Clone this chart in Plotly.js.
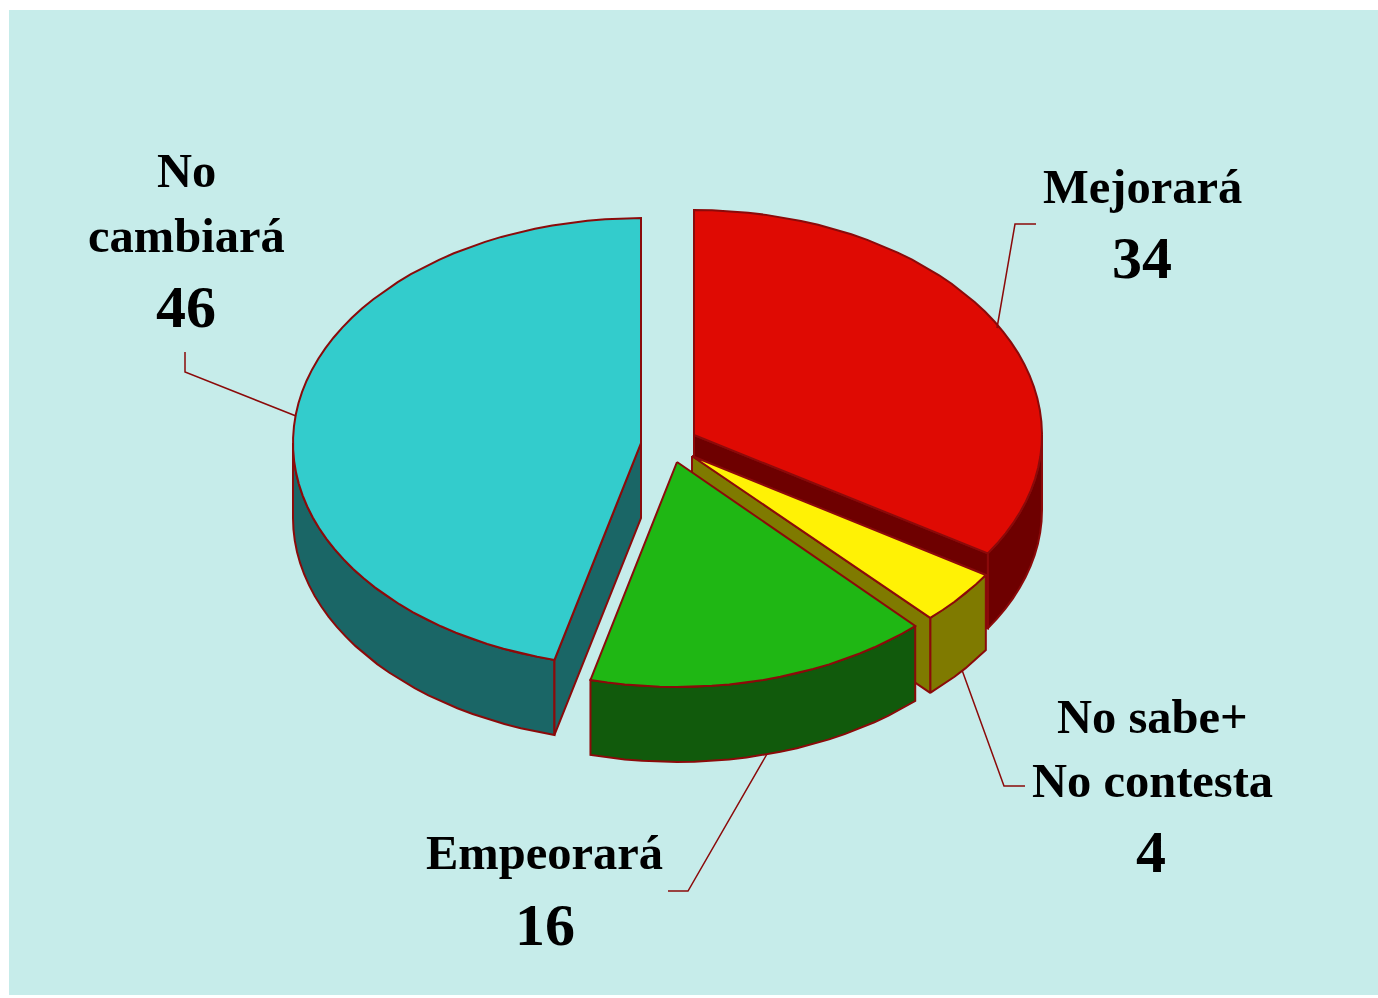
<!DOCTYPE html>
<html>
<head>
<meta charset="utf-8">
<script src="https://cdn.plot.ly/plotly-3.0.1.min.js"></script>
<style>html,body{margin:0;padding:0;background:#fff;overflow:hidden}#chart{width:1378px;height:998px}</style>
</head>
<body>
<div id="chart"></div>
<script>
// --- data, clockwise from twelve o'clock ---
const categories = ["Mejorará", "No sabe+|No contesta", "Empeorará", "No\ncambiará"];
const values = [34, 4, 16, 46];

// --- geometry of the exploded tilted pie (plot units = px) ---
const centerX = [694, 692, 677, 641];
const centerY = [435, 456, 462, 443];
const radiusDown = [221, 222, 225, 224];
const radiusUp = 225;
const radiusX = 348;
const depth = 75;

// --- styles ---
const topColors  = ["#df0a03", "#fff205", "#1fb714", "#33cccc"];
const sideColors = ["#6e0000", "#7f7a00", "#115a0c", "#1a6666"];
const edgeColor = "#8b0a0a";
const bgColor = "#c6ecea";

// --- label placement ---
const labelLines = [["Mejorará"], ["No sabe+", "No contesta"], ["Empeorará"], ["No", "cambiará"]];
const labelX = [1142, 1152, 544, 186];
const labelY = [[186], [716, 780], [852], [170, 235]];
const valueX = [1142, 1151, 545, 186];
const valueY = [258, 852, 925, 307];
const leaderX = [[997, 1015, 1036], [962, 1004, 1025], [767, 688, 668], [296, 185, 185]];
const leaderY = [[328, 224, 224], [670, 786, 786], [754, 891, 891], [416, 372, 352]];

const total = values.reduce((a, b) => a + b, 0);
let acc = 0;
const startAngle = [], endAngle = [];
values.forEach(v => {
  startAngle.push(acc / total * 2 * Math.PI);
  acc += v;
  endAngle.push(acc / total * 2 * Math.PI);
});

function rim(i, t, dy) {
  const c = Math.cos(t);
  const ry = c >= 0 ? radiusUp : radiusDown[i];
  return [centerX[i] + radiusX * Math.sin(t), centerY[i] - ry * c + (dy || 0)];
}
function arc(i, a, b, dy) {
  const n = Math.max(2, Math.ceil(Math.abs(b - a) / (Math.PI / 60)));
  const pts = [];
  for (let k = 0; k <= n; k++) pts.push(rim(i, a + (b - a) * k / n, dy));
  return pts;
}
function poly(pts, fill) {
  const closed = pts.concat([pts[0]]);
  return {
    type: "scatter", mode: "lines", fill: "toself", fillcolor: fill,
    x: closed.map(p => p[0]), y: closed.map(p => p[1]),
    line: { color: edgeColor, width: 2, shape: "linear" },
    hoverinfo: "skip", showlegend: false
  };
}
function wedgeTraces(i, faceAngle) {
  const out = [];
  const a = startAngle[i], b = endAngle[i];
  // outer wall: only the part on the near side of the ellipse
  const wa = Math.max(a, Math.PI / 2), wb = Math.min(b, 3 * Math.PI / 2);
  if (wb > wa) {
    out.push(poly(arc(i, wa, wb, 0).concat(arc(i, wb, wa, depth)), sideColors[i]));
  }
  // visible cut face
  if (faceAngle !== null) {
    const p = rim(i, faceAngle, 0), q = rim(i, faceAngle, depth);
    out.push(poly([[centerX[i], centerY[i]], p, q, [centerX[i], centerY[i] + depth]], sideColors[i]));
  }
  // top surface
  out.push(poly([[centerX[i], centerY[i]]].concat(arc(i, a, b, 0)), topColors[i]));
  return out;
}

const traces = [];
// painter's order: back-left, back-right, then the front slices
traces.push(...wedgeTraces(3, startAngle[3]));
traces.push(...wedgeTraces(0, endAngle[0]));
traces.push(...wedgeTraces(1, endAngle[1]));
traces.push(...wedgeTraces(2, null));

// leader lines
leaderX.forEach((xs, i) => traces.push({
  type: "scatter", mode: "lines", x: xs, y: leaderY[i],
  line: { color: edgeColor, width: 1.5 }, hoverinfo: "skip", showlegend: false
}));

// labels
const annotations = [];
const note = (x, y, text, size) => annotations.push({
  x, y, xref: "x", yref: "y", text: "<b>" + text + "</b>", showarrow: false,
  xanchor: "center", yanchor: "middle",
  font: { family: "Liberation Serif", size, color: "#000" }
});
labelLines.forEach((lines, i) => lines.forEach((t, k) => note(labelX[i], labelY[i][k], t, 48.5)));
values.forEach((v, i) => note(valueX[i], valueY[i], String(v), 60));

const layout = {
  width: 1378, height: 998, margin: { l: 0, r: 0, t: 0, b: 0 },
  paper_bgcolor: "#ffffff", plot_bgcolor: "#ffffff",
  xaxis: { range: [0, 1378], visible: false, fixedrange: true },
  yaxis: { range: [998, 0], visible: false, fixedrange: true },
  showlegend: false,
  annotations,
  shapes: [{ type: "rect", layer: "below", xref: "x", yref: "y", x0: 9, x1: 1378, y0: 10, y1: 995,
             fillcolor: bgColor, line: { width: 0 } }]
};
Plotly.newPlot("chart", traces, layout, { displayModeBar: false, staticPlot: true });
</script>
</body>
</html>
